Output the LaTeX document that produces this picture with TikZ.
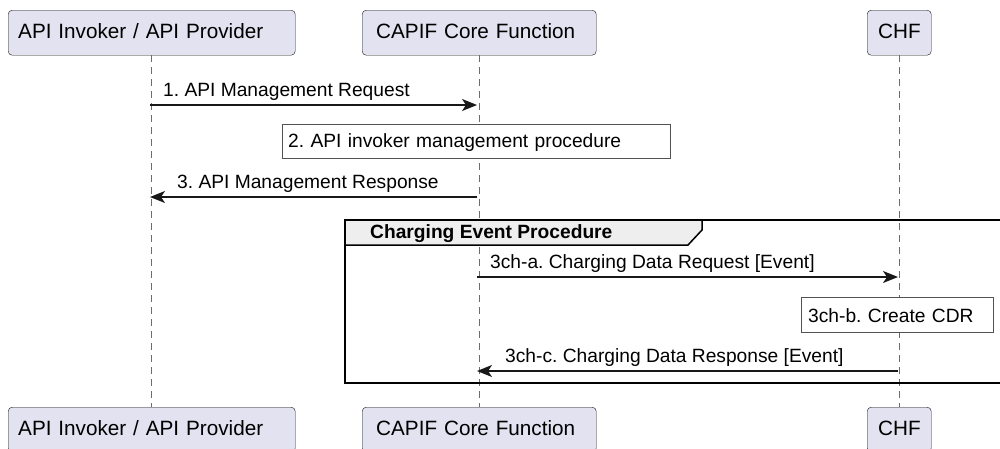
\documentclass[tikz,border=0pt]{standalone}
\usepackage{fontspec}
\setmainfont{Liberation Sans}
\usepackage{tikz}
\usetikzlibrary{arrows.meta}
\definecolor{partfill}{HTML}{E2E2F0}
\definecolor{partline}{HTML}{181818}
\definecolor{tabfill}{HTML}{EEEEEE}
\frenchspacing

\begin{document}
\begin{tikzpicture}[x=1pt, y=-1pt,
  part/.style={draw=partline, fill=partfill, rounded corners=4pt, anchor=north west, align=left,
    inner ysep=0pt, text height=28pt, text depth=17pt, font=\fontsize{20.7}{24}\selectfont},
  note/.style={draw=partline!75, fill=white, anchor=north west, align=left, inner ysep=0pt,
    font=\fontsize{19.2}{23}\selectfont},
  msg/.style={anchor=base west, inner sep=0pt, font=\fontsize{19.2}{23}\selectfont},
  lifeline/.style={draw=gray!85!black, line width=0.9pt, dash pattern=on 7pt off 5pt},
  call/.style={draw=partline, line width=1.3pt, -{Stealth[length=15pt, width=12pt, inset=4pt]}}]
\useasboundingbox (0,0) rectangle (1000,448);

% participants
\node[part, inner xsep=10pt, text width=267pt] (inv) at (8,10) {API Invoker / API Provider};
\node[part, inner xsep=14pt, text width=206pt] (ccf) at (362,10) {CAPIF Core Function};
\node[part, inner xsep=11pt, text width=42pt] (chf) at (867,10) {CHF};
\node[part, inner xsep=10pt, text width=267pt] (invEnd) at (8,407) {API Invoker / API Provider};
\node[part, inner xsep=14pt, text width=206pt] (ccfEnd) at (362,407) {CAPIF Core Function};
\node[part, inner xsep=11pt, text width=42pt] (chfEnd) at (867,407) {CHF};

% lifelines
\draw[lifeline] (inv.south) -- (invEnd.north);
\draw[lifeline] (ccf.south) -- (ccfEnd.north);
\draw[lifeline] (chf.south) -- (chfEnd.north);

% group
\fill[tabfill] (345,220) -- (702,220) -- (702,230) -- (688,245) -- (345,245) -- cycle;
\draw[line width=1.5pt] (345,245) -- (688,245) -- (702,230) -- (702,220);
\draw[line width=2pt] (345,220) rectangle (1001,383);
\node[msg, font=\fontsize{19.2}{23}\selectfont\bfseries] (grp) at (370,238) {Charging Event Procedure};

% messages
\coordinate (r1a) at (150,105);
\coordinate (r1b) at (477,105);
\draw[call] (r1a) -- (r1b);
\node[msg] (l1) at (163,96) {1. API Management Request};

\node[note, inner xsep=6pt, text width=376pt, text height=23pt, text depth=11pt] (n2) at (282,124)
  {2. API invoker management procedure};

\coordinate (r3a) at (477,197);
\coordinate (r3b) at (150,197);
\draw[call] (r3a) -- (r3b);
\node[msg] (l3) at (177,188) {3. API Management Response};

\coordinate (ra) at (477,277);
\coordinate (rb) at (898,277);
\draw[call] (ra) -- (rb);
\node[msg] (la) at (490,268) {3ch-a. Charging Data Request [Event]};

\node[note, inner xsep=7pt, text width=178pt, text height=25pt, text depth=10pt] (nb) at (801,297)
  {3ch-b. Create CDR};

\coordinate (rc) at (898,371);
\coordinate (rd) at (477,371);
\draw[call] (rc) -- (rd);
\node[msg] (lc) at (505,362) {3ch-c. Charging Data Response [Event]};
\end{tikzpicture}
\end{document}
